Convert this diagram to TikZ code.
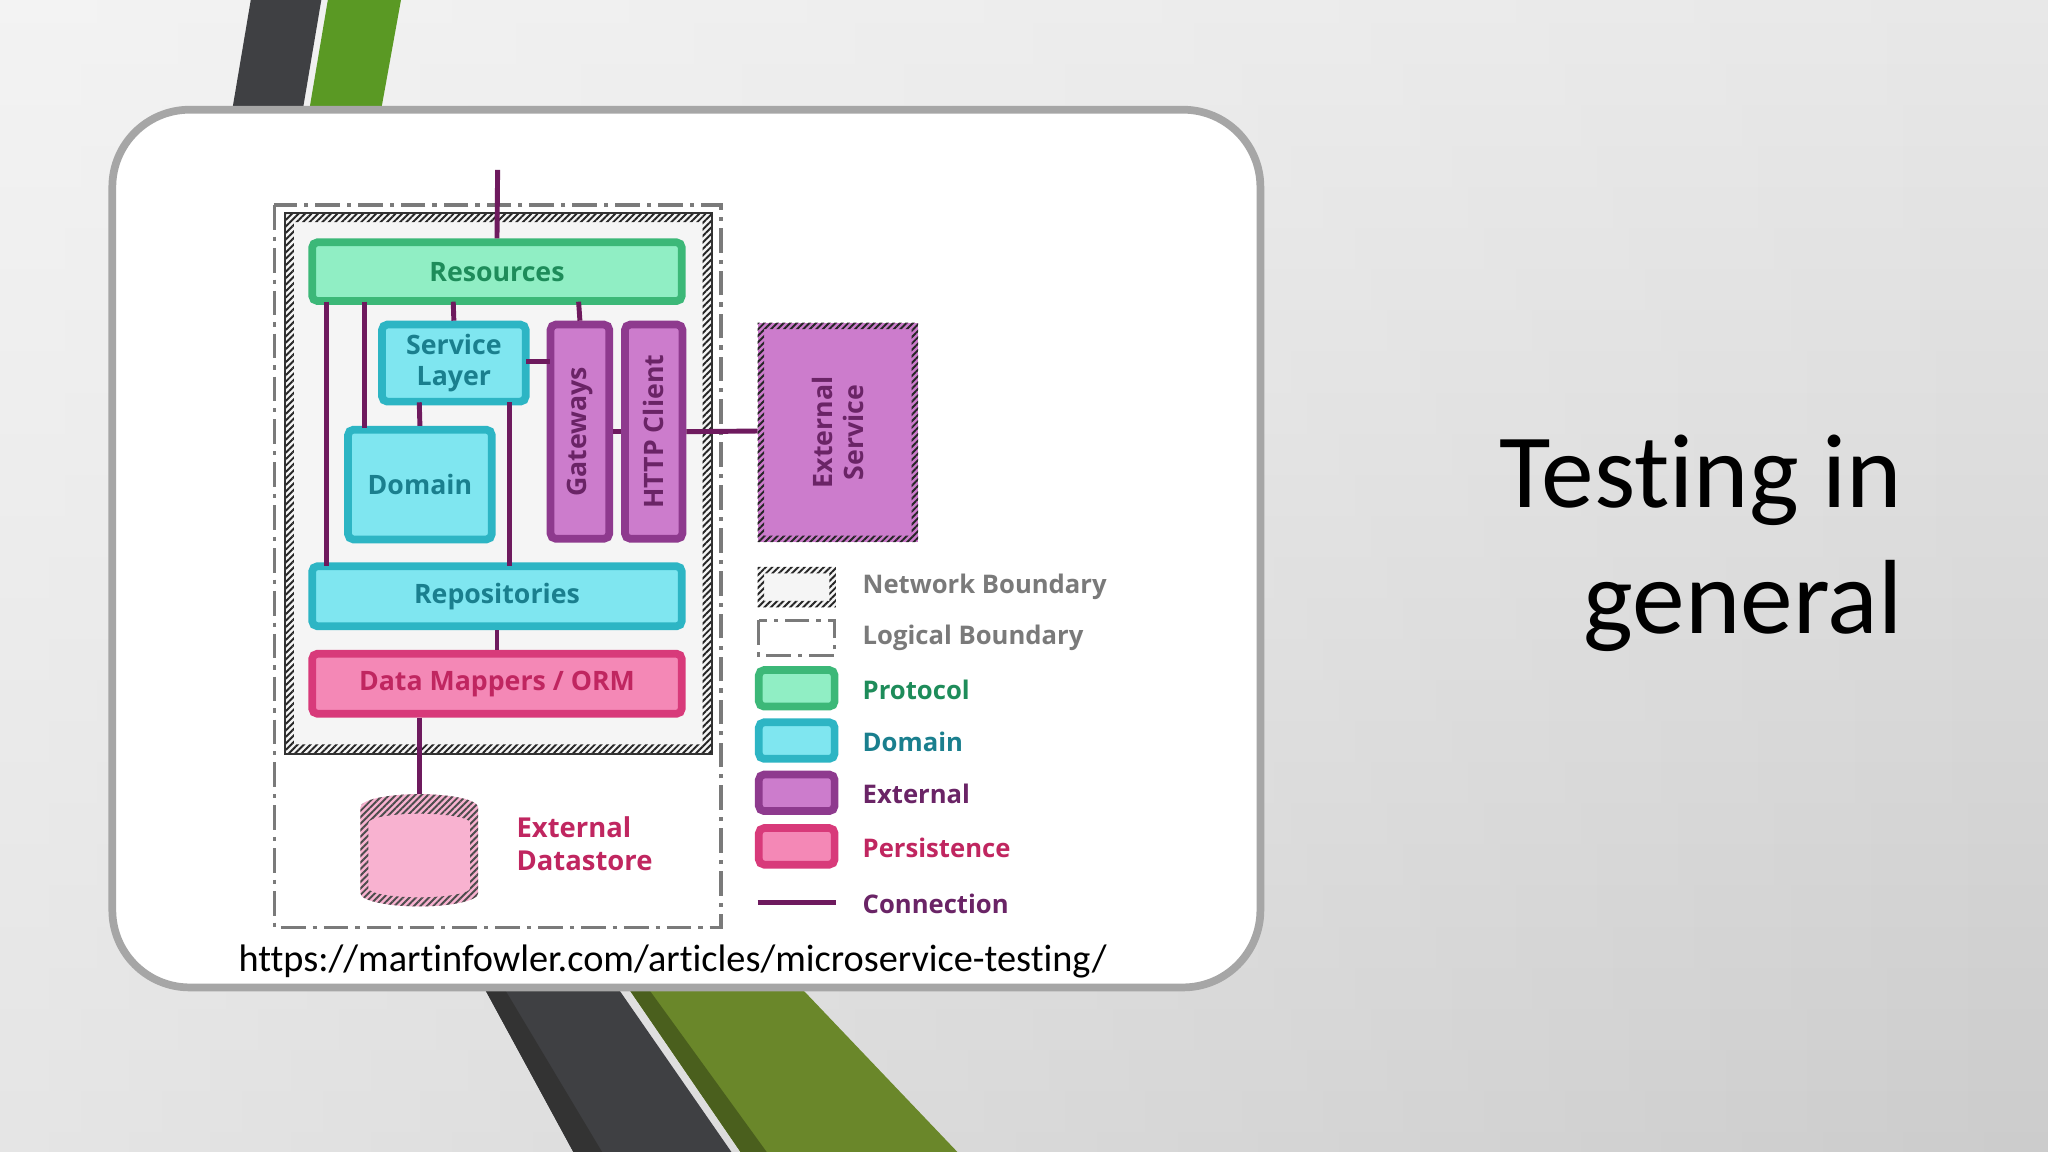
\documentclass[tikz,border=0pt]{standalone}
\usepackage{fontspec}
\setmainfont{Carlito}[Ligatures=NoCommon]
\newfontfamily\diag{Open Sans}
\usetikzlibrary{patterns.meta,fadings}
\definecolor{protofill}{HTML}{90EEC4}\definecolor{protodraw}{HTML}{3CB878}\definecolor{prototext}{HTML}{1E8C5A}
\definecolor{domfill}{HTML}{7FE6F0}\definecolor{domdraw}{HTML}{2DB5C4}\definecolor{domtext}{HTML}{1A7F8E}
\definecolor{extfill}{HTML}{CC7CCC}\definecolor{extdraw}{HTML}{8E3A8E}\definecolor{exttext}{HTML}{6A2466}
\definecolor{persfill}{HTML}{F488B6}\definecolor{persdraw}{HTML}{D83A7A}\definecolor{perstext}{HTML}{C02660}
\definecolor{conn}{HTML}{6E1A5E}\definecolor{bnd}{HTML}{7A7A7A}
\definecolor{stripdark}{HTML}{3F4043}\definecolor{stripgreen}{HTML}{6A872A}
\tikzset{
 blk/.style={draw, line width=2.2pt, rounded corners=1.5pt, font=\diag\bfseries\fontsize{7.6}{9}\selectfont, align=center, inner sep=0pt},
 proto/.style={blk, fill=protofill, draw=protodraw, text=prototext},
 dom/.style={blk, fill=domfill, draw=domdraw, text=domtext},
 ext/.style={blk, fill=extfill, draw=extdraw, text=exttext},
 pers/.style={blk, fill=persfill, draw=persdraw, text=perstext},
 cn/.style={conn, line width=1.4pt},
 hatch/.style={pattern={Lines[angle=45,distance=1.3pt,line width=0.55pt]}, pattern color=black!85},
 leg/.style={anchor=west, font=\diag\bfseries\fontsize{7.3}{9}\selectfont},
 vlab/.style={font=\diag\bfseries\fontsize{7.6}{9}\selectfont, text=exttext, rotate=90, align=center},
}
\begin{document}
\begin{tikzpicture}[x=0.013061cm,y=-0.013061cm]
\useasboundingbox (0,0) rectangle (1568,882);
\shade[top color=black!9, bottom color=black!20] (0,0) rectangle (1568,882);
\fill[white, opacity=0.5, path fading=east] (0,0) rectangle (1568,882);
% stripes
\fill[stripdark] (192,0) -- (246,0) -- (232,83) -- (178,83) -- cycle;
\fill[stripgreen!85!green] (251,0) -- (307,0) -- (292,83) -- (237,83) -- cycle;
\fill[stripdark] (370,755) -- (472,755) -- (560,882) -- (439,882) -- cycle;
\fill[black!80] (370,755) -- (385,755) -- (461,882) -- (439,882) -- cycle;
\fill[stripgreen] (480,755) -- (612,755) -- (733,882) -- (567,882) -- cycle;
\fill[stripgreen!70!black] (480,755) -- (495,755) -- (587,882) -- (567,882) -- cycle;
% card
\draw[line width=2.2pt, draw=black!35, fill=white, rounded corners=22] (86,84) rectangle (965,756);
% title
\node[anchor=east, align=right, font=\fontsize{30}{36}\selectfont] (title) at (1466,416) {Testing in\\general};
\node[font=\fontsize{10.9}{12}\selectfont] (url) at (515,736) {https://martinfowler.com/articles/microservice-testing/};
% boundaries
\draw[bnd, line width=0.9pt, dash pattern=on 7pt off 2pt on 1.2pt off 2pt] (210,157) rectangle (552,710);
\fill[black!4] (218,163) rectangle (545,577);
\fill[hatch, even odd rule] (218,163) rectangle (545,577) (225,170) rectangle (538,570);
\draw[black!80, line width=0.6pt] (218,163) rectangle (545,577);
\coordinate (top) at (381,130);
\node[proto, minimum width=0.013061cm*283, minimum height=0.013061cm*45] (res) at (380.5,208) {Resources};
\node[dom, minimum width=0.013061cm*110, minimum height=0.013061cm*59] (svc) at (347.5,278) {Service\\Layer};
\node[dom, minimum width=0.013061cm*110, minimum height=0.013061cm*84] (domn) at (321.5,371) {Domain};
\node[ext, minimum width=0.013061cm*45, minimum height=0.013061cm*164] (gw) at (444,330.5) {};
\node[vlab] at (gw) {Gateways};
\node[ext, minimum width=0.013061cm*44, minimum height=0.013061cm*164] (http) at (500.5,330.5) {};
\node[vlab] at (http) {HTTP Client};
\node[dom, minimum width=0.013061cm*283, minimum height=0.013061cm*46] (repo) at (380.5,456.5) {Repositories};
\node[pers, minimum width=0.013061cm*283, minimum height=0.013061cm*46] (dm) at (380.5,523.5) {Data Mappers / ORM};
% external service
\fill[extfill] (580,247) rectangle (703,415);
\fill[hatch, even odd rule] (580,247) rectangle (703,415) (585,252) rectangle (698,410);
\node[vlab] (es) at (641.5,331) {External\\Service};
\coordinate (esw) at (580,330);
% datastore
\fill[persfill!65] (276,618) arc[start angle=180,end angle=360,x radius=45,y radius=10] -- (366,684) arc[start angle=0,end angle=180,x radius=45,y radius=10] -- cycle;
\fill[pattern={Lines[angle=45,distance=1.3pt,line width=0.55pt]}, pattern color=black!70, even odd rule]
 (276,618) arc[start angle=180,end angle=360,x radius=45,y radius=10] -- (366,684) arc[start angle=0,end angle=180,x radius=45,y radius=10] -- cycle
 (282,630) arc[start angle=180,end angle=360,x radius=39,y radius=7] -- (360,680) arc[start angle=0,end angle=180,x radius=39,y radius=7] -- cycle;
\fill[persfill!65] (282,630) arc[start angle=180,end angle=0,x radius=39,y radius=7] -- cycle;
\coordinate (dstop) at (321,608);
\node[anchor=west, align=left, text=perstext, font=\diag\bfseries\fontsize{7.8}{9.2}\selectfont] (dsl) at (386,646) {External\\Datastore};
% connectors
\draw[cn] (top) -- (res.north);
\draw[cn] (250,231) -- (250,433);
\draw[cn] (279,231) -- (279,328);
\draw[cn] (347,231) -- (svc.north);
\draw[cn] (443,231) -- (gw.north);
\draw[cn] (321,308) -- (domn.north);
\draw[cn] (390,308) -- (390,433);
\draw[cn] (403,277) -- (421,277);
\draw[cn] (gw.east) -- (http.west);
\draw[cn] (http.east) -- (esw);
\draw[cn] (repo.south) -- (dm.north);
\draw[cn] (dm.south -| dstop) -- (dstop);
% legend
\fill[black!4] (580,434) rectangle (640,465);
\fill[hatch, even odd rule] (580,434) rectangle (640,465) (585,439) rectangle (635,460);
\node[leg, text=bnd] (l1) at (651,449) {Network Boundary};
\draw[bnd, line width=0.9pt, dash pattern=on 7pt off 2pt on 1.2pt off 2pt] (581,475) rectangle (639,502);
\node[leg, text=bnd] (l2) at (651,488) {Logical Boundary};
\node[proto, minimum width=0.013061cm*58, minimum height=0.013061cm*28] (b3) at (610,527) {};
\node[leg, text=prototext] (l3) at (651,528) {Protocol};
\node[dom, minimum width=0.013061cm*58, minimum height=0.013061cm*28] (b4) at (610,567) {};
\node[leg, text=domtext] (l4) at (651,568) {Domain};
\node[ext, minimum width=0.013061cm*58, minimum height=0.013061cm*28] (b5) at (610,607) {};
\node[leg, text=exttext] (l5) at (651,608) {External};
\node[pers, minimum width=0.013061cm*58, minimum height=0.013061cm*28] (b6) at (610,648) {};
\node[leg, text=perstext] (l6) at (651,649) {Persistence};
\coordinate (c1) at (580,691); \coordinate (c2) at (640,691);
\draw[cn] (c1) -- (c2);
\node[leg, text=exttext] (l7) at (651,692) {Connection};
\end{tikzpicture}
\end{document}
